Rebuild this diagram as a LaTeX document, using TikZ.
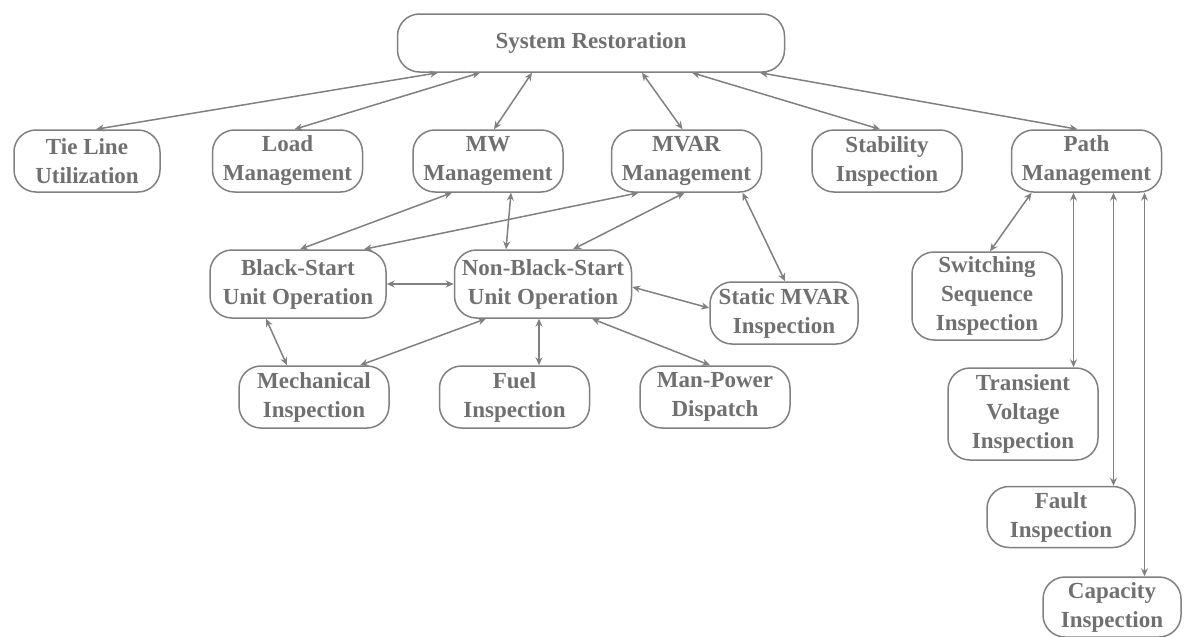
\documentclass[tikz,border=0pt]{standalone}
\usepackage{fontspec}
\setmainfont{Liberation Serif}[BoldFont={Liberation Serif Bold}]
\usetikzlibrary{positioning,arrows.meta}
\definecolor{linegray}{RGB}{128,128,128}
\definecolor{textgray}{RGB}{112,112,112}
\begin{document}
\begin{tikzpicture}[x=1pt, y=-1pt, node distance=49pt, >={Stealth[length=8pt,width=7pt]}]
        \tikzstyle{unit}=[draw=linegray, line width=1.5pt, rounded corners=22pt, minimum width=150pt, minimum height=62pt, inner sep=1pt, font=\rmfamily\bfseries\fontsize{23}{29}\selectfont, text=textgray, align=center];
        \tikzstyle{link}=[<->, draw=linegray, line width=1.5pt];

        \useasboundingbox (0,0) rectangle (1184,637);

        \node[unit, minimum width=387pt, minimum height=58pt] (restore) at (591,43) {System Restoration};

        \node[unit, minimum width=146pt] (tieline) at (87,161) {Tie Line\\Utilization};
        \node[unit, right=51pt of tieline] (load) {Load\\Management};
        \node[unit, right=of load] (mw) {MW\\Management};
        \node[unit, right=47pt of mw] (mvar) {MVAR\\Management};
        \node[unit, right=of mvar] (stab) {Stability\\Inspection};
        \node[unit, right=48pt of stab] (path) {Path\\Management};

        \node[unit, minimum width=176pt, minimum height=68pt] (bsu) at (298,284) {Black-Start\\Unit Operation};
        \node[unit, minimum width=177pt, minimum height=68pt] (nbsu) at (543,284) {Non-Black-Start\\Unit Operation};
        \node[unit, minimum width=148pt] (static) at (784,313) {Static MVAR\\Inspection};

        \node[unit] (mech) at (314,397) {Mechanical\\Inspection};
        \node[unit, right=of mech] (fuel) {Fuel\\Inspection};
        \node[unit, right=of fuel] (manpower) {Man-Power\\Dispatch};

        \node[unit, minimum height=88pt] (switch) at (987,296) {Switching\\Sequence\\Inspection};
        \node[unit, minimum height=92pt] (transient) at (1023,414) {Transient\\Voltage\\Inspection};
        \node[unit, minimum width=148pt, minimum height=61pt] (fault) at (1061,517) {Fault\\Inspection};
        \node[unit, minimum width=138pt, minimum height=60pt] (capacity) at (1112,607) {Capacity\\Inspection};

        % top level
        \draw[link] ([xshift=-153pt]restore.south) -- ([xshift=9pt]tieline.north);
        \draw[link] ([xshift=-111pt]restore.south) -- ([xshift=7pt]load.north);
        \draw[link] ([xshift=-59pt]restore.south) -- ([xshift=6pt]mw.north);
        \draw[link] ([xshift=51pt]restore.south) -- ([xshift=-4pt]mvar.north);
        \draw[link] ([xshift=101pt]restore.south) -- ([xshift=-7pt]stab.north);
        \draw[link] ([xshift=169pt]restore.south) -- ([xshift=-9pt]path.north);

        % unit operation
        \draw[link] ([xshift=-36pt]mw.south) -- ([xshift=2pt]bsu.north);
        \draw[link] ([xshift=23pt]mw.south) -- ([xshift=-37pt]nbsu.north);
        \draw[link] ([xshift=-48pt]mvar.south) -- ([xshift=66pt]bsu.north);
        \draw[link] ([xshift=-2pt]mvar.south) -- ([xshift=30pt]nbsu.north);
        \draw[link] ([xshift=56pt]mvar.south) -- ([xshift=1pt]static.north);
        \draw[link] (bsu) -- (nbsu);
        \draw[link] ([yshift=-3pt]nbsu.east) -- ([yshift=5pt]static.west);

        % inspections
        \draw[link] ([xshift=-32pt]bsu.south) -- ([xshift=-27pt]mech.north);
        \draw[link] ([xshift=-57pt]nbsu.south) -- ([xshift=46pt]mech.north);
        \draw[link] ([xshift=-4pt]nbsu.south) -- ([xshift=-4pt]nbsu.south |- fuel.north);
        \draw[link] ([xshift=49pt]nbsu.south) -- ([xshift=-5pt]manpower.north);

        % path management
        \draw[link] ([xshift=-55pt]path.south) -- ([xshift=3pt]switch.north);
        \draw[link] ([xshift=-13pt]path.south) -- ([xshift=-13pt]path.south |- transient.north);
        \draw[link] ([xshift=27pt]path.south) -- ([xshift=27pt]path.south |- fault.north);
        \draw[link] ([xshift=58pt]path.south) -- ([xshift=58pt]path.south |- capacity.north);
    \end{tikzpicture}
\end{document}
